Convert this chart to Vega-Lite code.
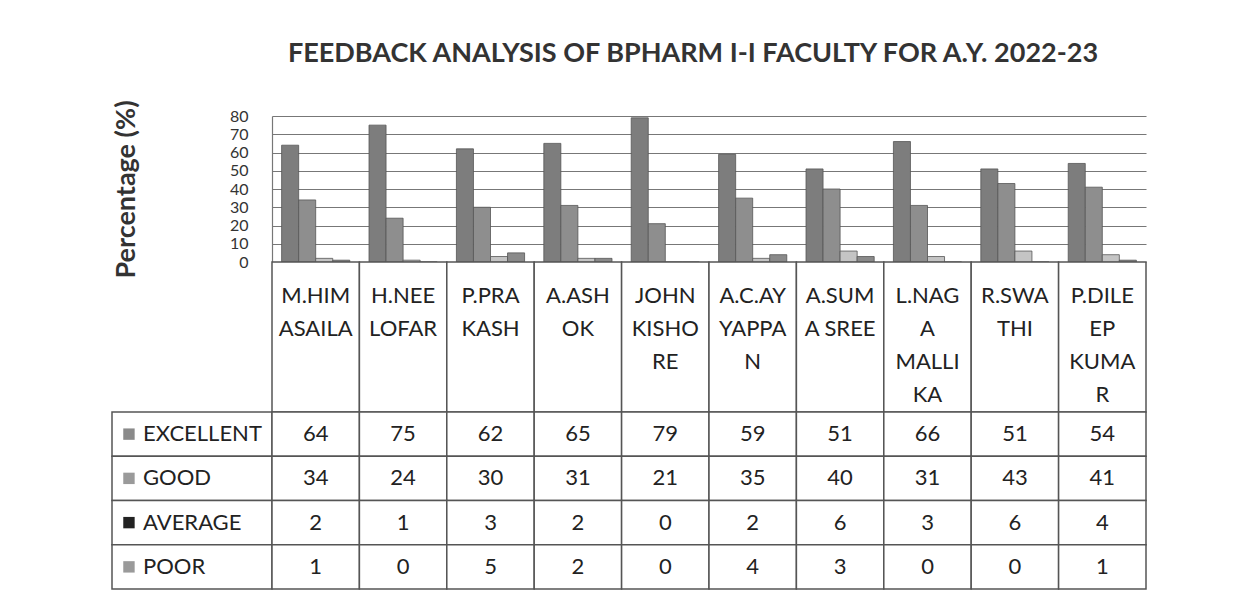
{
  "$schema": "https://vega.github.io/schema/vega-lite/v6.json",
  "padding": {"left": 111, "top": 39, "right": 5, "bottom": 5},
  "background": "white",
  "config": {"view": {"stroke": null}, "font": "Lato"},
  "datasets": {
    "scores": [
      {"name": "M.HIMASAILA", "series": "EXCELLENT", "value": 64},
      {"name": "H.NEELOFAR", "series": "EXCELLENT", "value": 75},
      {"name": "P.PRAKASH", "series": "EXCELLENT", "value": 62},
      {"name": "A.ASHOK", "series": "EXCELLENT", "value": 65},
      {"name": "JOHN KISHORE", "series": "EXCELLENT", "value": 79},
      {"name": "A.C.AYYAPPAN", "series": "EXCELLENT", "value": 59},
      {"name": "A.SUMA SREE", "series": "EXCELLENT", "value": 51},
      {"name": "L.NAGA MALLIKA", "series": "EXCELLENT", "value": 66},
      {"name": "R.SWATHI", "series": "EXCELLENT", "value": 51},
      {"name": "P.DILEEP KUMAR", "series": "EXCELLENT", "value": 54},
      {"name": "M.HIMASAILA", "series": "GOOD", "value": 34},
      {"name": "H.NEELOFAR", "series": "GOOD", "value": 24},
      {"name": "P.PRAKASH", "series": "GOOD", "value": 30},
      {"name": "A.ASHOK", "series": "GOOD", "value": 31},
      {"name": "JOHN KISHORE", "series": "GOOD", "value": 21},
      {"name": "A.C.AYYAPPAN", "series": "GOOD", "value": 35},
      {"name": "A.SUMA SREE", "series": "GOOD", "value": 40},
      {"name": "L.NAGA MALLIKA", "series": "GOOD", "value": 31},
      {"name": "R.SWATHI", "series": "GOOD", "value": 43},
      {"name": "P.DILEEP KUMAR", "series": "GOOD", "value": 41},
      {"name": "M.HIMASAILA", "series": "AVERAGE", "value": 2},
      {"name": "H.NEELOFAR", "series": "AVERAGE", "value": 1},
      {"name": "P.PRAKASH", "series": "AVERAGE", "value": 3},
      {"name": "A.ASHOK", "series": "AVERAGE", "value": 2},
      {"name": "JOHN KISHORE", "series": "AVERAGE", "value": 0},
      {"name": "A.C.AYYAPPAN", "series": "AVERAGE", "value": 2},
      {"name": "A.SUMA SREE", "series": "AVERAGE", "value": 6},
      {"name": "L.NAGA MALLIKA", "series": "AVERAGE", "value": 3},
      {"name": "R.SWATHI", "series": "AVERAGE", "value": 6},
      {"name": "P.DILEEP KUMAR", "series": "AVERAGE", "value": 4},
      {"name": "M.HIMASAILA", "series": "POOR", "value": 1},
      {"name": "H.NEELOFAR", "series": "POOR", "value": 0},
      {"name": "P.PRAKASH", "series": "POOR", "value": 5},
      {"name": "A.ASHOK", "series": "POOR", "value": 2},
      {"name": "JOHN KISHORE", "series": "POOR", "value": 0},
      {"name": "A.C.AYYAPPAN", "series": "POOR", "value": 4},
      {"name": "A.SUMA SREE", "series": "POOR", "value": 3},
      {"name": "L.NAGA MALLIKA", "series": "POOR", "value": 0},
      {"name": "R.SWATHI", "series": "POOR", "value": 0},
      {"name": "P.DILEEP KUMAR", "series": "POOR", "value": 1}
    ],
    "names": [
      {"name": "M.HIMASAILA", "label": "M.HIM|ASAILA"},
      {"name": "H.NEELOFAR", "label": "H.NEE|LOFAR"},
      {"name": "P.PRAKASH", "label": "P.PRA|KASH"},
      {"name": "A.ASHOK", "label": "A.ASH|OK"},
      {"name": "JOHN KISHORE", "label": "JOHN|KISHO|RE"},
      {"name": "A.C.AYYAPPAN", "label": "A.C.AY|YAPPA|N"},
      {"name": "A.SUMA SREE", "label": "A.SUM|A SREE"},
      {"name": "L.NAGA MALLIKA", "label": "L.NAG|A|MALLI|KA"},
      {"name": "R.SWATHI", "label": "R.SWA|THI"},
      {"name": "P.DILEEP KUMAR", "label": "P.DILE|EP|KUMA|R"}
    ],
    "series": [
      {"series": "EXCELLENT"},
      {"series": "GOOD"},
      {"series": "AVERAGE"},
      {"series": "POOR"}
    ]
  },
  "columns": 2,
  "spacing": 0,
  "bounds": "flush",
  "resolve": {"scale": {"x": "independent", "y": "independent", "color": "independent"}},
  "concat": [
    {
      "width": 160, "height": 146,
      "data": {"values": [{}]},
      "mark": {"type": "text", "text": ""}
    },
    {
      "width": 874, "height": 146,
      "data": {"name": "scores"},
      "title": {"text": "FEEDBACK ANALYSIS OF BPHARM I-I FACULTY FOR A.Y. 2022-23", "fontSize": 27, "font": "Lato", "fontWeight": "bold", "color": "#333333", "anchor": "middle", "frame": "group", "dx": -16, "offset": 32},
      "mark": {"type": "bar", "stroke": "#555555", "strokeWidth": 0.8},
      "encoding": {
        "x": {"field": "name", "type": "nominal", "sort": ["M.HIMASAILA", "H.NEELOFAR", "P.PRAKASH", "A.ASHOK", "JOHN KISHORE", "A.C.AYYAPPAN", "A.SUMA SREE", "L.NAGA MALLIKA", "R.SWATHI", "P.DILEEP KUMAR"], "scale": {"paddingInner": 0.22, "paddingOuter": 0.11}, "axis": null},
        "xOffset": {"field": "series", "type": "nominal", "sort": ["EXCELLENT", "GOOD", "AVERAGE", "POOR"], "scale": {"paddingInner": 0, "paddingOuter": 0}},
        "y": {"field": "value", "type": "quantitative", "scale": {"domain": [0, 80], "nice": false},
          "axis": {"values": [0, 10, 20, 30, 40, 50, 60, 70, 80], "title": "Percentage (%)", "titleFontSize": 27, "titleFont": "Lato", "titleFontWeight": "bold", "titleColor": "#333333", "titlePadding": 89, "labelFontSize": 16, "labelFont": "Lato", "labelColor": "#333333", "labelPadding": 24, "labelOverlap": false, "labelFlush": false, "ticks": false, "grid": true, "gridColor": "#777777", "gridWidth": 1.2, "domainColor": "#777777", "domainWidth": 1.2}},
        "color": {"field": "series", "type": "nominal", "scale": {"domain": ["EXCELLENT", "GOOD", "AVERAGE", "POOR"], "range": ["#7d7d7d", "#8e8e8e", "#c4c4c4", "#8a8a8a"]}, "legend": null}
      }
    },
    {
      "width": 160, "height": 150,
      "data": {"values": [{}]},
      "mark": {"type": "text", "text": ""}
    },
    {
      "width": 874, "height": 150,
      "data": {"name": "names"},
      "layer": [
        {
          "mark": {"type": "rect", "fill": "white", "stroke": "#555555", "strokeWidth": 1.5},
          "encoding": {
            "x": {"field": "name", "type": "nominal", "sort": ["M.HIMASAILA", "H.NEELOFAR", "P.PRAKASH", "A.ASHOK", "JOHN KISHORE", "A.C.AYYAPPAN", "A.SUMA SREE", "L.NAGA MALLIKA", "R.SWATHI", "P.DILEEP KUMAR"], "scale": {"padding": 0}, "axis": null},
            "y": {"datum": 0, "type": "quantitative", "scale": {"domain": [0, 1]}, "axis": null},
            "y2": {"datum": 1}
          }
        },
        {
          "mark": {"type": "text", "font": "Lato", "fontSize": 22, "baseline": "top", "lineBreak": "|", "lineHeight": 33, "dy": 24, "color": "#222222"},
          "encoding": {
            "x": {"field": "name", "type": "nominal", "sort": ["M.HIMASAILA", "H.NEELOFAR", "P.PRAKASH", "A.ASHOK", "JOHN KISHORE", "A.C.AYYAPPAN", "A.SUMA SREE", "L.NAGA MALLIKA", "R.SWATHI", "P.DILEEP KUMAR"], "axis": null},
            "y": {"datum": 1, "type": "quantitative"},
            "text": {"field": "label"}
          }
        }
      ]
    },
    {
      "width": 160, "height": 177,
      "data": {"name": "series"},
      "layer": [
        {
          "mark": {"type": "rect", "fill": "white", "stroke": "#555555", "strokeWidth": 1.5},
          "encoding": {
            "y": {"field": "series", "type": "nominal", "sort": ["EXCELLENT", "GOOD", "AVERAGE", "POOR"], "scale": {"padding": 0}, "axis": null},
            "x": {"datum": 0, "type": "quantitative", "scale": {"domain": [0, 1]}, "axis": null},
            "x2": {"datum": 1}
          }
        },
        {
          "mark": {"type": "point", "shape": "square", "size": 130, "filled": true, "opacity": 1},
          "encoding": {
            "y": {"field": "series", "type": "nominal", "sort": ["EXCELLENT", "GOOD", "AVERAGE", "POOR"]},
            "x": {"datum": 0.106, "type": "quantitative"},
            "color": {"field": "series", "type": "nominal", "scale": {"domain": ["EXCELLENT", "GOOD", "AVERAGE", "POOR"], "range": ["#8a8a8a", "#9a9a9a", "#222222", "#9a9a9a"]}, "legend": null}
          }
        },
        {
          "mark": {"type": "text", "font": "Lato", "fontSize": 22, "align": "left", "color": "#222222"},
          "encoding": {
            "y": {"field": "series", "type": "nominal", "sort": ["EXCELLENT", "GOOD", "AVERAGE", "POOR"]},
            "x": {"datum": 0.194, "type": "quantitative"},
            "text": {"field": "series"}
          }
        }
      ]
    },
    {
      "width": 874, "height": 177,
      "data": {"name": "scores"},
      "layer": [
        {
          "mark": {"type": "rect", "fill": "white", "stroke": "#555555", "strokeWidth": 1.5},
          "encoding": {
            "x": {"field": "name", "type": "nominal", "sort": ["M.HIMASAILA", "H.NEELOFAR", "P.PRAKASH", "A.ASHOK", "JOHN KISHORE", "A.C.AYYAPPAN", "A.SUMA SREE", "L.NAGA MALLIKA", "R.SWATHI", "P.DILEEP KUMAR"], "scale": {"padding": 0}, "axis": null},
            "y": {"field": "series", "type": "nominal", "sort": ["EXCELLENT", "GOOD", "AVERAGE", "POOR"], "scale": {"padding": 0}, "axis": null}
          }
        },
        {
          "mark": {"type": "text", "font": "Lato", "fontSize": 22, "color": "#222222"},
          "encoding": {
            "x": {"field": "name", "type": "nominal", "sort": ["M.HIMASAILA", "H.NEELOFAR", "P.PRAKASH", "A.ASHOK", "JOHN KISHORE", "A.C.AYYAPPAN", "A.SUMA SREE", "L.NAGA MALLIKA", "R.SWATHI", "P.DILEEP KUMAR"]},
            "y": {"field": "series", "type": "nominal", "sort": ["EXCELLENT", "GOOD", "AVERAGE", "POOR"]},
            "text": {"field": "value", "type": "quantitative"}
          }
        }
      ]
    }
  ]
}
